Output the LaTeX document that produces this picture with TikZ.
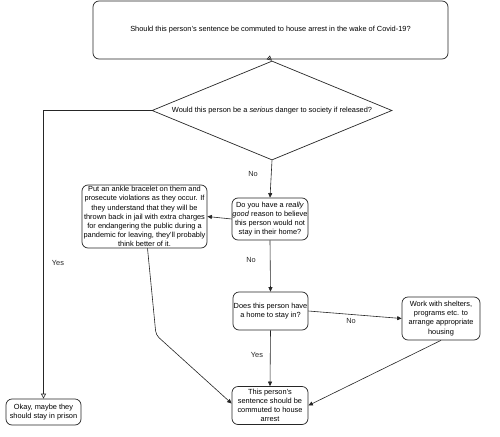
\documentclass[tikz,border=0pt]{standalone}
\usepackage{fontspec}
\setmainfont{Liberation Sans}
\usetikzlibrary{shapes.geometric,arrows.meta}
\begin{document}
\begin{tikzpicture}[x=1pt,y=-1pt,
  font=\fontsize{7.4}{9.1}\selectfont,
  box/.style={draw=black!85, line width=0.7pt, rounded corners=6pt, align=center, inner sep=0pt},
  decision/.style={draw=black!85, line width=0.7pt, shape=diamond, shape aspect=2.42, inner sep=0pt, align=center},
  flow/.style={draw=black!85, line width=0.6pt, -{Triangle[length=4.5pt,width=4pt]}},
  openflow/.style={draw=black!85, line width=0.6pt, -{Triangle[open,length=5pt,width=5pt]}},
  lbl/.style={inner sep=0pt, text=black!85}]
\fill[white] (0,0) rectangle (500,436);
\useasboundingbox (0,0) rectangle (500,436);

\node[box, minimum width=355pt, minimum height=58pt] (top) at (270.5,30)
  {Should this person's sentence be commuted to house arrest in the wake of Covid-19?};
\node[decision, minimum width=240pt, minimum height=99pt] (dia) at (272,110.5)
  {Would this person be a \textit{serious} danger to society if released?};
\node[box, minimum width=125pt, minimum height=63pt] (ankle) at (144.5,216.5)
  {Put an ankle bracelet on them and\\prosecute violations as they occur. If\\they understand that they will be\\thrown back in jail with extra charges\\for endangering the public during a\\pandemic for leaving, they'll probably\\think better of it.};
\node[box, minimum width=76pt, minimum height=42pt] (reason) at (270,219)
  {Do you have a \textit{really}\\\textit{good} reason to believe\\this person would not\\stay in their home?};
\node[box, minimum width=75pt, minimum height=38pt] (home) at (270.5,311)
  {Does this person have\\a home to stay in?};
\node[box, minimum width=78pt, minimum height=43pt] (work) at (441,318.5)
  {Work with shelters,\\programs etc. to\\arrange appropriate\\housing};
\node[box, minimum width=76pt, minimum height=38pt] (final) at (270,405.5)
  {This person's\\sentence should be\\commuted to house\\arrest};
\node[box, minimum width=75pt, minimum height=26pt] (okay) at (43.5,412)
  {Okay, maybe they\\should stay in prison};

\coordinate (bend) at (156,335);

\draw[openflow] (top.south) -- (dia.north);
\draw[openflow] (dia.west) -| (okay.north);
\node[lbl] (yes1) at (58,263) {Yes};
\draw[flow] (dia.south) -- (reason.north);
\node[lbl] (no1) at (253,174) {No};
\draw[flow] (reason.west) -- (ankle.east);
\draw[flow] (reason.south) -- (home.north);
\node[lbl] (no2) at (251,260) {No};
\draw[flow] (home.east) -- (work.west);
\node[lbl] (no3) at (351,321) {No};
\draw[flow] (home.south) -- (final.north);
\node[lbl] (yes2) at (257,355) {Yes};
\draw[flow] (work.south) -- (final.east);
\draw[flow, rounded corners=4pt] ([xshift=3pt]ankle.south) -- (bend) -- ([yshift=2pt]final.west);
\end{tikzpicture}
\end{document}
